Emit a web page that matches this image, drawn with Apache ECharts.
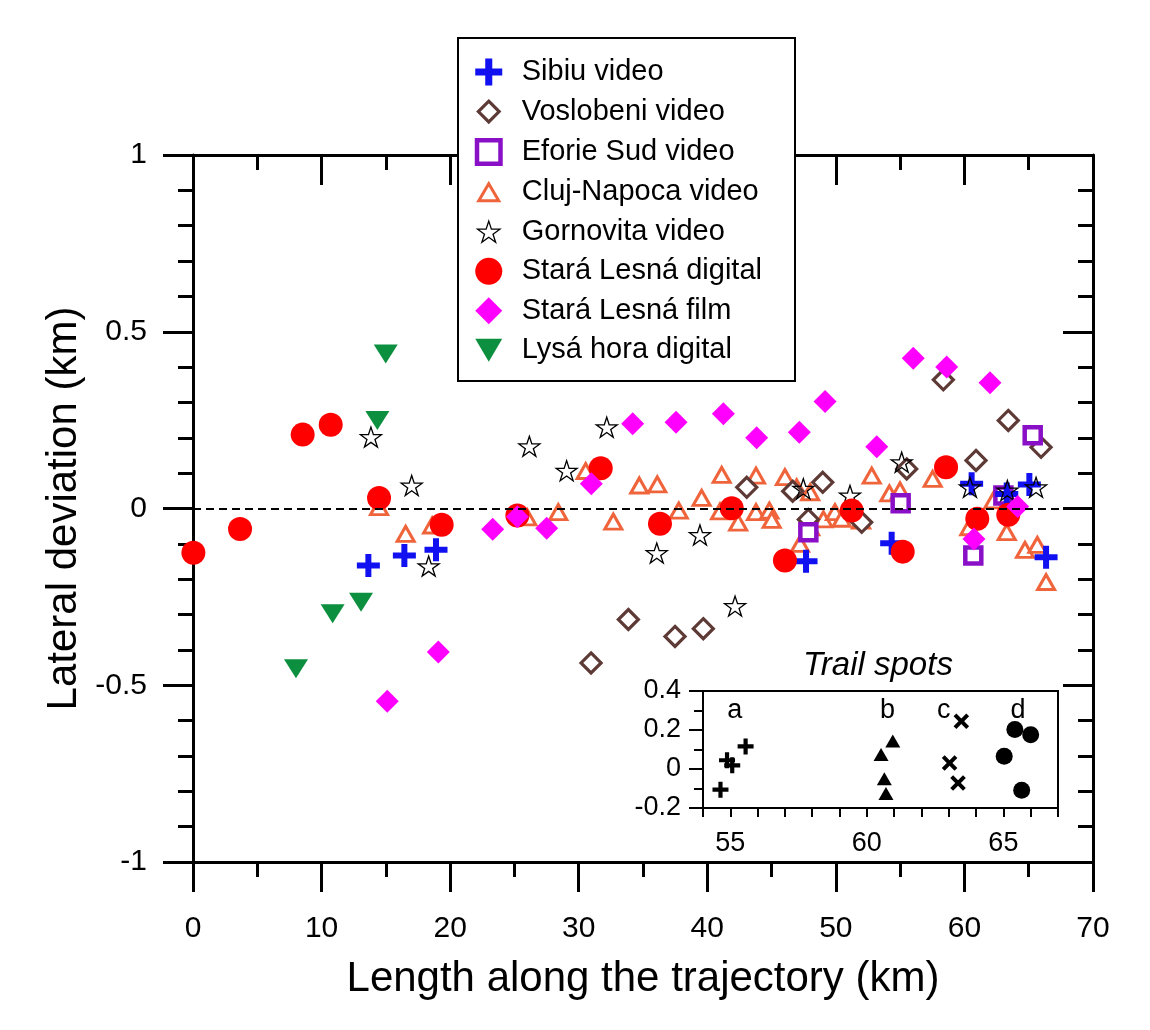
<!DOCTYPE html>
<html><head><meta charset="utf-8">
<script src="https://cdn.jsdelivr.net/npm/echarts@6/dist/echarts.min.js"></script>
<style>html,body{margin:0;padding:0;background:#fff}#c{width:1150px;height:1030px}</style>
</head><body><div id="c"></div>
<script>
// ---------- DATA ----------
const seriesNames = ['Sibiu video','Voslobeni video','Eforie Sud video','Cluj-Napoca video','Gornovita video','Stará Lesná digital','Stará Lesná film','Lysá hora digital'];

const sibiuX = [13.64, 16.44, 18.9, 47.68, 54.34, 60.56, 63.29, 65.05, 66.35];
const sibiuY = [-0.161, -0.133, -0.117, -0.149, -0.098, 0.070, 0.041, 0.068, -0.138];

const voslobeniX = [30.96, 33.86, 37.49, 39.69, 43.07, 46.64, 47.86, 48.98, 52.01, 55.51, 58.36, 60.9, 63.41, 65.96];
const voslobeniY = [-0.437, -0.314, -0.362, -0.340, 0.060, 0.049, -0.031, 0.074, -0.039, 0.112, 0.364, 0.136, 0.249, 0.173];

const eforieX = [47.86, 55.04, 60.69, 63.03, 65.31];
const eforieY = [-0.067, 0.015, -0.133, 0.037, 0.207];

const clujX = [14.47, 16.54, 18.6, 26.0, 28.41, 30.54, 32.69, 34.71, 36.11, 37.78, 39.56, 41.12, 40.99, 42.4, 43.79, 43.79, 44.83, 45.01, 46.04, 46.95, 48.0, 47.21, 48.0, 49.03, 49.93, 50.45, 51.96, 52.79, 54.16, 54.99, 57.53, 60.38, 62.25, 63.29, 64.71, 65.67, 66.35];
const clujY = [0.004, -0.072, -0.048, -0.025, -0.010, 0.106, -0.037, 0.065, 0.068, -0.006, 0.030, 0.095, -0.008, -0.040, 0.093, -0.010, -0.006, -0.032, 0.089, 0.060, 0.046, -0.100, -0.053, -0.031, -0.010, -0.029, -0.034, 0.093, 0.043, 0.051, 0.084, -0.053, 0.023, -0.067, -0.117, -0.103, -0.208];

const gornovitaX = [13.84, 17.01, 18.33, 26.16, 29.06, 32.18, 36.07, 39.43, 42.16, 47.47, 51.1, 55.12, 60.43, 63.34, 65.57];
const gornovitaY = [0.202, 0.065, -0.163, 0.176, 0.107, 0.230, -0.126, -0.075, -0.276, 0.056, 0.037, 0.131, 0.060, 0.051, 0.060];

const slDigitalX = [0.03, 3.66, 8.53, 10.71, 14.47, 19.34, 25.23, 31.71, 36.32, 41.9, 46.04, 51.23, 55.2, 58.57, 61.0, 63.41];
const slDigitalY = [-0.125, -0.058, 0.209, 0.237, 0.030, -0.046, -0.020, 0.114, -0.043, 0.001, -0.147, -0.006, -0.122, 0.117, -0.029, -0.018];

const slFilmX = [15.11, 19.08, 23.31, 25.23, 27.51, 30.98, 34.2, 37.57, 41.25, 43.84, 47.16, 49.16, 53.18, 56.02, 58.62, 60.74, 61.99, 64.14];
const slFilmY = [-0.545, -0.406, -0.059, -0.023, -0.056, 0.070, 0.240, 0.244, 0.268, 0.200, 0.216, 0.303, 0.175, 0.425, 0.400, -0.086, 0.356, 0.006];

const lysaX = [8.01, 10.86, 13.07, 14.34, 14.99];
const lysaY = [-0.453, -0.298, -0.265, 0.249, 0.437];

// inset: trail spots
const trailAX = [54.64, 54.88, 55.07, 55.56];
const trailAY = [-0.106, 0.045, 0.019, 0.116];
const trailBX = [60.52, 60.95, 60.64, 60.70];
const trailBY = [0.075, 0.144, -0.050, -0.126];
const trailCX = [63.46, 63.03, 63.34];
const trailCY = [0.245, 0.031, -0.072];
const trailDX = [65.42, 66.0, 65.03, 65.67];
const trailDY = [0.202, 0.176, 0.065, -0.109];
const trailLabels = ['a', 'b', 'c', 'd'];
const trailLabelX = [55.16, 60.76, 62.82, 65.54];
const trailLabelY = [0.3, 0.3, 0.3, 0.3];

// tick settings
const mainXTicks = {min: 0, max: 70, interval: 10};
const mainYTicks = {min: -1, max: 1, interval: 0.5};
const insetXTicks = {min: 54, max: 67, interval: 1, labelEvery: 5};
const insetYTicks = {min: -0.2, max: 0.4, interval: 0.2};

// ---------- BUILD ----------
const FONT = '"Liberation Sans", Arial, sans-serif';
const zip = (xs, ys) => xs.map((x, i) => [x, ys[i]]);

const PLUS = 'M8.5,0H14.5V8.5H23V14.5H14.5V23H8.5V14.5H0V8.5H8.5Z';
const XMARK = 'M7,0H11V7H18V11H11V18H7V11H0V7H7Z';
const DIAM = 'M10,0L20,10L10,20L0,10Z';
const SQ = 'M0,0H20V20H0Z';
const TRI_UP = 'M10,0L20,17L0,17Z';
const TRI_DOWN = 'M0,0L20,0L10,17Z';
const CIRC = 'M0,10A10,10,0,1,1,20,10A10,10,0,1,1,0,10Z';
function starGeom() {
  const pts = [];
  for (let i = 0; i < 10; i++) {
    const r = i % 2 ? 3.82 : 10;
    const a = -Math.PI / 2 + i * Math.PI / 5;
    pts.push((10 + r * Math.cos(a)).toFixed(3) + ',' + (10 + r * Math.sin(a)).toFixed(3));
  }
  return 'M' + pts.join('L') + 'Z';
}
const STAR = starGeom();
function framed(geom, cx, cy, S) {
  const a = cx - S / 2, b = cy - S / 2, c = cx + S / 2, d = cy + S / 2;
  return 'path://' + geom + ' M' + a + ',' + b + 'L' + a + ',' + b + ' M' + c + ',' + d + 'L' + c + ',' + d;
}

const C = {
  blue: '#1010f0', brown: '#5e3a36', purple: '#8a10c8', orange: '#f0643c',
  red: '#ff0000', magenta: '#ff00ff', green: '#0c8f3e'
};

const styles = {
  'Sibiu video': {sym: 'path://' + PLUS, size: 23, item: {color: C.blue, borderWidth: 0},
    legendIcon: 'path://' + PLUS},
  'Voslobeni video': {sym: 'path://' + DIAM, size: 20, item: {color: '#fff', borderColor: C.brown, borderWidth: 3.2},
    legendIcon: framed(DIAM, 10, 10, 26)},
  'Eforie Sud video': {sym: 'path://' + SQ, size: 16, item: {color: '#fff', borderColor: C.purple, borderWidth: 4.5},
    legendIcon: framed(SQ, 10, 10, 23)},
  'Cluj-Napoca video': {sym: 'path://' + TRI_UP, size: [17, 15], item: {color: '#fff', borderColor: C.orange, borderWidth: 3},
    legendIcon: framed(TRI_UP, 10, 8.5, 27)},
  'Gornovita video': {sym: 'path://' + STAR, size: [21, 20], item: {color: 'rgba(0,0,0,0)', borderColor: '#000', borderWidth: 1.3},
    legendIcon: framed(STAR, 10, 9.05, 23)},
  'Stará Lesná digital': {sym: 'circle', size: 24, item: {color: C.red, borderWidth: 0},
    legendIcon: 'path://' + CIRC},
  'Stará Lesná film': {sym: 'path://' + DIAM, size: 23, item: {color: C.magenta, borderWidth: 0},
    legendIcon: framed(DIAM, 10, 10, 20)},
  'Lysá hora digital': {sym: 'path://' + TRI_DOWN, size: [24, 19], item: {color: C.green, borderWidth: 0},
    legendIcon: framed(TRI_DOWN, 10, 8.5, 20)}
};

const dataByName = {
  'Sibiu video': zip(sibiuX, sibiuY),
  'Voslobeni video': zip(voslobeniX, voslobeniY),
  'Eforie Sud video': zip(eforieX, eforieY),
  'Cluj-Napoca video': zip(clujX, clujY),
  'Gornovita video': zip(gornovitaX, gornovitaY),
  'Stará Lesná digital': zip(slDigitalX, slDigitalY),
  'Stará Lesná film': zip(slFilmX, slFilmY),
  'Lysá hora digital': zip(lysaX, lysaY)
};

// draw order (later on top)
const drawOrder = ['Cluj-Napoca video', 'Voslobeni video', 'Eforie Sud video', 'Sibiu video', 'Gornovita video', 'Stará Lesná digital', 'Stará Lesná film', 'Lysá hora digital'];

const mainSeries = drawOrder.map((n, i) => {
  const s = styles[n];
  const o = {
    name: n, type: 'scatter', xAxisIndex: 0, yAxisIndex: 0,
    symbol: s.sym, symbolSize: s.size, itemStyle: Object.assign({opacity: 1}, s.item),
    data: dataByName[n], z: 2 + i * 0.01, emphasis: {disabled: true}
  };
  if (i === 0) {
    o.markLine = {
      silent: true, symbol: ['none', 'none'], label: {show: false}, animation: false,
      lineStyle: {color: '#000', type: [8, 5], width: 2, opacity: 1}, data: [{yAxis: 0}]
    };
  }
  return o;
});

const blackItem = {color: '#000', opacity: 1};
const insetSeries = [
  {name: 'trail a', type: 'scatter', xAxisIndex: 2, yAxisIndex: 2, symbol: 'path://' + PLUS, symbolSize: 16,
   itemStyle: blackItem, data: zip(trailAX, trailAY), z: 5, emphasis: {disabled: true}},
  {name: 'trail b', type: 'scatter', xAxisIndex: 2, yAxisIndex: 2, symbol: 'path://' + TRI_UP, symbolSize: [15, 13],
   itemStyle: blackItem, data: zip(trailBX, trailBY), z: 5, emphasis: {disabled: true}},
  {name: 'trail c', type: 'scatter', xAxisIndex: 2, yAxisIndex: 2, symbol: 'path://' + XMARK, symbolSize: 18, symbolRotate: 45,
   itemStyle: blackItem, data: zip(trailCX, trailCY), z: 5, emphasis: {disabled: true}},
  {name: 'trail d', type: 'scatter', xAxisIndex: 2, yAxisIndex: 2, symbol: 'circle', symbolSize: 17,
   itemStyle: blackItem, data: zip(trailDX, trailDY), z: 5, emphasis: {disabled: true}},
  {name: 'trail labels', type: 'scatter', xAxisIndex: 2, yAxisIndex: 2, symbol: 'circle', symbolSize: 0.1,
   itemStyle: {color: 'rgba(0,0,0,0)'}, z: 6, emphasis: {disabled: true},
   label: {show: true, position: 'inside', formatter: '{b}', fontSize: 27, color: '#000', fontFamily: FONT, opacity: 1},
   data: trailLabels.map((t, i) => ({name: t, value: [trailLabelX[i], trailLabelY[i]]}))}
];

const option = {
  animation: false,
  backgroundColor: '#fff',
  textStyle: {fontFamily: FONT},
  grid: [
    {left: 193, top: 155, width: 900, height: 707, show: false, outerBoundsMode: 'none', containLabel: false},
    {left: 703, top: 691, width: 355, height: 117, show: true, backgroundColor: '#fff', borderColor: '#000', borderWidth: 2, z: 3, outerBoundsMode: 'none', containLabel: false}
  ],
  xAxis: [
    {type: 'value', gridIndex: 0, position: 'bottom', min: mainXTicks.min, max: mainXTicks.max, interval: mainXTicks.interval,
     axisLine: {show: true, onZero: false, lineStyle: {color: '#000', width: 3}},
     axisTick: {show: true, inside: false, length: 30, lineStyle: {color: '#000', width: 3}},
     minorTick: {show: true, splitNumber: 2, length: 15, lineStyle: {color: '#000', width: 3}},
     splitLine: {show: false}, minorSplitLine: {show: false},
     axisLabel: {fontSize: 30, color: '#000', margin: 52, fontFamily: FONT},
     name: 'Length along the trajectory (km)', nameLocation: 'middle', nameGap: 96, nameMoveOverlap: false,
     nameTextStyle: {fontSize: 42, color: '#000', fontFamily: FONT}},
    {type: 'value', gridIndex: 0, position: 'top', min: mainXTicks.min, max: mainXTicks.max, interval: mainXTicks.interval,
     axisLine: {show: true, onZero: false, lineStyle: {color: '#000', width: 3}},
     axisTick: {show: true, inside: true, length: 30, lineStyle: {color: '#000', width: 3}},
     minorTick: {show: true, splitNumber: 2, length: 15, lineStyle: {color: '#000', width: 3}},
     splitLine: {show: false}, axisLabel: {show: false}},
    {type: 'value', gridIndex: 1, position: 'bottom', min: insetXTicks.min, max: insetXTicks.max, interval: insetXTicks.interval,
     axisLine: {show: true, onZero: false, lineStyle: {color: '#000', width: 2}},
     axisTick: {show: true, inside: false, length: 9, lineStyle: {color: '#000', width: 2}},
     splitLine: {show: false},
     axisLabel: {fontSize: 27, color: '#000', margin: 22, fontFamily: FONT, showMinLabel: true, showMaxLabel: true,
       formatter: v => (Math.round(v) % insetXTicks.labelEvery === 0 ? String(Math.round(v)) : '')}}
  ],
  yAxis: [
    {type: 'value', gridIndex: 0, position: 'left', min: mainYTicks.min, max: mainYTicks.max, interval: mainYTicks.interval,
     axisLine: {show: true, onZero: false, lineStyle: {color: '#000', width: 3}},
     axisTick: {show: true, inside: false, length: 30, lineStyle: {color: '#000', width: 3}},
     minorTick: {show: true, splitNumber: 5, length: 15, lineStyle: {color: '#000', width: 3}},
     splitLine: {show: false}, minorSplitLine: {show: false},
     axisLabel: {fontSize: 30, color: '#000', margin: 46, fontFamily: FONT},
     name: 'Lateral deviation (km)', nameLocation: 'middle', nameGap: 108, nameMoveOverlap: false,
     nameTextStyle: {fontSize: 42, color: '#000', fontFamily: FONT}},
    {type: 'value', gridIndex: 0, position: 'right', min: mainYTicks.min, max: mainYTicks.max, interval: mainYTicks.interval,
     axisLine: {show: true, onZero: false, lineStyle: {color: '#000', width: 3}},
     axisTick: {show: true, inside: true, length: 30, lineStyle: {color: '#000', width: 3}},
     minorTick: {show: true, splitNumber: 5, length: 15, lineStyle: {color: '#000', width: 3}},
     splitLine: {show: false}, axisLabel: {show: false}},
    {type: 'value', gridIndex: 1, position: 'left', min: insetYTicks.min, max: insetYTicks.max, interval: insetYTicks.interval,
     axisLine: {show: true, onZero: false, lineStyle: {color: '#000', width: 2}},
     axisTick: {show: true, inside: false, length: 14, lineStyle: {color: '#000', width: 2}},
     minorTick: {show: true, splitNumber: 2, length: 9, lineStyle: {color: '#000', width: 2}},
     splitLine: {show: false}, minorSplitLine: {show: false},
     axisLabel: {fontSize: 27, color: '#000', margin: 22, fontFamily: FONT, showMinLabel: true, showMaxLabel: true}}
  ],
  legend: {
    orient: 'vertical', left: 473, top: 57, padding: 0, itemGap: 9.5,
    itemWidth: 56, itemHeight: 27, z: 20, selectedMode: false,
    textStyle: {fontSize: 29, color: '#000', fontFamily: FONT, lineHeight: 30},
    data: seriesNames.map(n => ({name: n, icon: styles[n].legendIcon, itemStyle: Object.assign({}, styles[n].item)}))
  },
  graphic: [
    {type: 'rect', z: 10, silent: true, shape: {x: 458, y: 38, width: 337, height: 343},
     style: {fill: '#fff', stroke: '#000', lineWidth: 2}},
    {type: 'text', z: 10, silent: true, x: 878, y: 666,
     style: {text: 'Trail spots', fontSize: 33, fontStyle: 'italic', fontFamily: FONT, fill: '#000', align: 'center', verticalAlign: 'middle'}}
  ],
  series: mainSeries.concat(insetSeries)
};

const chart = echarts.init(document.getElementById('c'), null, {renderer: 'canvas'});
chart.setOption(option);
</script>
</body></html>
